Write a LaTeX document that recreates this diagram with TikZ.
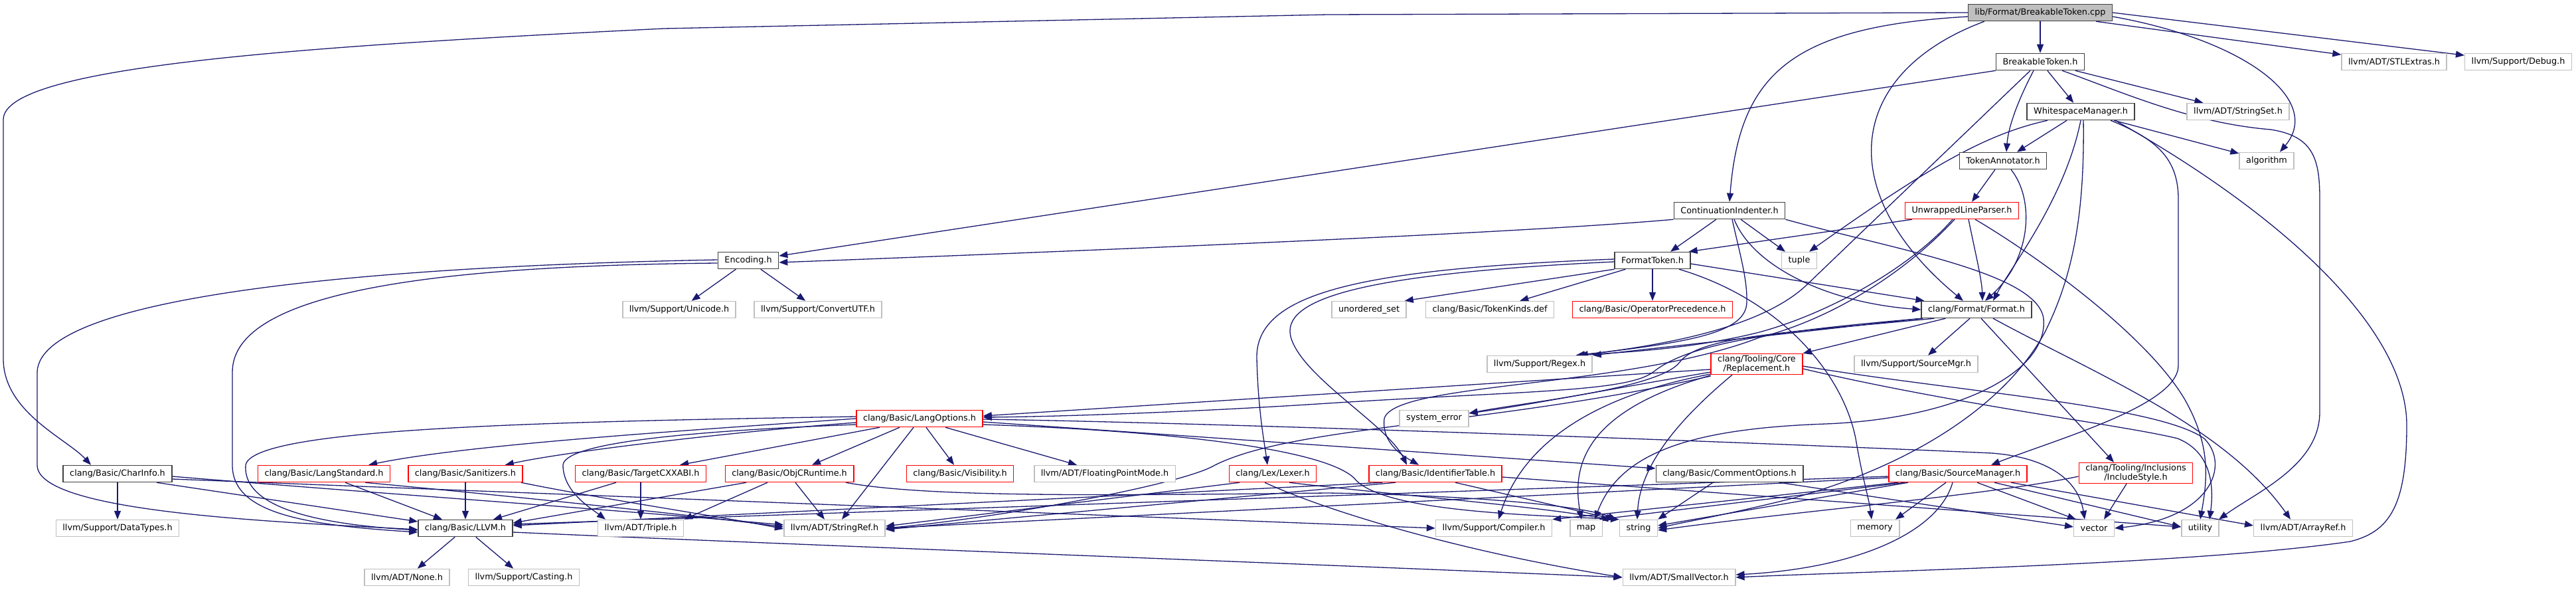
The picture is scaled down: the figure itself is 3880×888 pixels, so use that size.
\documentclass[tikz,border=0pt]{standalone}
\usepackage{fontspec}
\setmainfont{DejaVu Sans}
\usetikzlibrary{arrows.meta}
\pgfdeclarelayer{bg}
\pgfsetlayers{bg,main}
\definecolor{midblue}{HTML}{191970}
\definecolor{gborder}{HTML}{BFBFBF}
\definecolor{rborder}{HTML}{FF0000}
\definecolor{kborder}{HTML}{404040}
\begin{document}
\begin{tikzpicture}[x=1pt,y=-1pt,
  nd/.style={draw, line width=1.5pt, fill=white, minimum height=25pt, inner xsep=10pt, inner ysep=2pt,
    font=\fontsize{12.8pt}{14.5pt}\selectfont, align=center},
  blk/.style={nd, draw=kborder},
  gry/.style={nd, draw=gborder},
  rd/.style={nd, draw=rborder},
  edg/.style={draw=midblue, line width=1.3pt, -{Triangle[length=13pt,width=10pt]}}]
\useasboundingbox (0,0) rectangle (3880,888);
% nodes
\node[blk, fill=gborder] (cpp) at (3073,19) {lib/Format/BreakableToken.cpp};
\node[blk] (bth) at (3073,93) {BreakableToken.h};
\node[gry] (stl) at (3606,93) {llvm/ADT/STLExtras.h};
\node[gry] (dbg) at (3793,93) {llvm/Support/Debug.h};
\node[blk] (wsm) at (3134,168) {WhitespaceManager.h};
\node[gry] (sset) at (3371,168) {llvm/ADT/StringSet.h};
\node[blk] (ta) at (3017,242) {TokenAnnotator.h};
\node[gry] (alg) at (3414,242) {algorithm};
\node[rd] (ulp) at (2955,317) {UnwrappedLineParser.h};
\node[blk] (ci) at (2605,317) {ContinuationIndenter.h};
\node[blk] (ft) at (2489,392) {FormatToken.h};
\node[gry] (tuple) at (2710,392) {tuple};
\node[blk] (enc) at (1127,392) {Encoding.h};
\node[gry] (uni) at (1023,466) {llvm/Support/Unicode.h};
\node[gry] (cutf) at (1232,466) {llvm/Support/ConvertUTF.h};
\node[gry] (uset) at (2062,466) {unordered\_set};
\node[gry] (tkd) at (2244,466) {clang/Basic/TokenKinds.def};
\node[rd] (opp) at (2489,466) {clang/Basic/OperatorPrecedence.h};
\node[blk] (fmt) at (2977,466) {clang/Format/Format.h};
\node[gry] (regex) at (2319,548) {llvm/Support/Regex.h};
\node[rd] (repl) at (2646,548) {clang/Tooling/Core\\/Replacement.h};
\node[gry] (smgr) at (2886,548) {llvm/Support/SourceMgr.h};
\node[gry] (sysErr) at (2160,630) {system\_error};
\node[rd] (lo) at (1385,630) {clang/Basic/LangOptions.h};
\node[blk] (charinfo) at (177,713) {clang/Basic/CharInfo.h};
\node[rd] (lstd) at (488,713) {clang/Basic/LangStandard.h};
\node[rd] (san) at (701,713) {clang/Basic/Sanitizers.h};
\node[rd] (cxxabi) at (965,713) {clang/Basic/TargetCXXABI.h};
\node[rd] (objc) at (1189,713) {clang/Basic/ObjCRuntime.h};
\node[rd] (vis) at (1446,713) {clang/Basic/Visibility.h};
\node[gry] (fpm) at (1664,713) {llvm/ADT/FloatingPointMode.h};
\node[rd] (lexer) at (1917,713) {clang/Lex/Lexer.h};
\node[rd] (idt) at (2162,713) {clang/Basic/IdentifierTable.h};
\node[blk] (copt) at (2605,713) {clang/Basic/CommentOptions.h};
\node[rd] (srcm) at (2949,713) {clang/Basic/SourceManager.h};
\node[rd] (incs) at (3217,712) {clang/Tooling/Inclusions\\/IncludeStyle.h};
\node[gry] (dtypes) at (177,795) {llvm/Support/DataTypes.h};
\node[blk] (llvmh) at (701,795) {clang/Basic/LLVM.h};
\node[gry] (triple) at (965,795) {llvm/ADT/Triple.h};
\node[gry] (sref) at (1257,795) {llvm/ADT/StringRef.h};
\node[gry] (comp) at (2250,795) {llvm/Support/Compiler.h};
\node[gry] (map) at (2389,795) {map};
\node[gry] (string) at (2468,795) {string};
\node[gry] (memory) at (2824,795) {memory};
\node[gry] (vector) at (3154,795) {vector};
\node[gry] (utility) at (3314,795) {utility};
\node[gry] (aref) at (3469,795) {llvm/ADT/ArrayRef.h};
\node[gry] (none) at (613,869) {llvm/ADT/None.h};
\node[gry] (cast) at (789,869) {llvm/Support/Casting.h};
\node[gry] (svec) at (2529,869) {llvm/ADT/SmallVector.h};
% edges
\begin{pgfonlayer}{bg}
% BreakableToken.cpp
\draw[edg] (cpp) -- (bth);
\draw[edg] ([xshift=-25pt]cpp.south east) -- (stl);
\draw[edg] (cpp.east) -- (dbg);
\draw[edg] ([yshift=-6pt]cpp.east) .. controls (3380,60) and (3500,150) .. ([xshift=20pt]alg.north);
\draw[edg] ([yshift=-6pt]cpp.west) .. controls (2700,40) and (2620,110) .. (ci.north);
\draw[edg] ([xshift=25pt]cpp.south west) .. controls (2780,110) and (2760,290) .. ([xshift=-20pt]fmt.north);
\draw[edg] (cpp.west) -- (2000,22) -- (1000,43) .. controls (450,70) and (5,100) .. (5,180) -- (5,540) .. controls (5,620) and (100,660) .. ([xshift=-40pt]charinfo.north);
% BreakableToken.h
\draw[edg] (bth) -- (wsm);
\draw[edg] ([xshift=-10pt]bth.south) .. controls (3040,150) and (3025,190) .. ([xshift=5pt]ta.north);
\draw[edg] (bth) -- (sset);
\draw[edg] (bth.south west) -- (enc);
\draw[edg] ([xshift=-15pt]bth.south) -- (2720,430) .. controls (2650,495) and (2500,520) .. ([xshift=-20pt]regex.north east);
\draw[edg] ([xshift=33pt]bth.south) .. controls (3200,140) and (3300,185) .. (3420,195) .. controls (3485,205) and (3494,240) .. (3494,300) -- (3494,620) .. controls (3494,700) and (3400,740) .. ([xshift=28pt]utility.north);
% WhitespaceManager.h
\draw[edg] (wsm) -- (ta);
\draw[edg] (wsm) -- (alg);
\draw[edg] ([xshift=-50pt]wsm.south) .. controls (3000,200) and (2920,240) .. ([xshift=15pt]tuple.north);
\draw[edg] (wsm.south) .. controls (3110,300) and (3030,400) .. ([xshift=25pt]fmt.north);
\draw[edg] ([xshift=4pt]wsm.south) .. controls (3140,330) and (3120,420) .. (3080,500) .. controls (3020,610) and (2880,700) .. (2700,750) .. controls (2600,775) and (2540,785) .. (string.east);
\draw[edg] ([xshift=45pt]wsm.south) .. controls (3250,210) and (3281,240) .. (3281,300) -- (3281,550) .. controls (3281,610) and (3100,660) .. ([xshift=50pt]srcm.north);
\draw[edg] ([xshift=52pt]wsm.south) .. controls (3450,330) and (3625,500) .. (3625,640) .. controls (3625,760) and (3600,800) .. (3540,815) .. controls (3300,850) and (2800,860) .. (svec.east);
% TokenAnnotator.h
\draw[edg] ([xshift=-12pt]ta.south) -- ([xshift=15pt]ulp.north);
\draw[edg] ([xshift=12pt]ta.south) .. controls (3065,300) and (3060,390) .. ([xshift=13pt]fmt.north);
% UnwrappedLineParser.h
\draw[edg] ([xshift=-75pt]ulp.south) -- ([xshift=-3pt]ft.north east);
\draw[edg] ([xshift=10pt]ulp.south) .. controls (2975,380) and (2985,420) .. ([xshift=9pt]fmt.north);
\draw[edg] ([xshift=-14pt]ulp.south) .. controls (2880,400) and (2760,470) .. (2650,500) .. controls (2550,525) and (2450,530) .. ([xshift=-25pt]regex.north east);
\draw[edg] ([xshift=-11pt]ulp.south) .. controls (2870,410) and (2760,480) .. (2650,508) .. controls (2450,585) and (2100,575) .. (2085,630) .. controls (2080,670) and (2120,690) .. ([xshift=-25pt]idt.north);
\draw[edg] ([xshift=20pt]ulp.south) .. controls (3060,380) and (3230,500) .. (3290,600) .. controls (3330,670) and (3325,720) .. (utility.north);
% ContinuationIndenter.h
\draw[edg] (ci.south west) .. controls (2300,350) and (1700,375) .. ([yshift=-3pt]enc.east);
\draw[edg] ([xshift=-20pt]ci.south) -- ([xshift=27pt]ft.north);
\draw[edg] ([xshift=17pt]ci.south) -- ([xshift=-21pt]tuple.north);
\draw[edg] ([xshift=4pt]ci.south) .. controls (2620,380) and (2632,420) .. (2631,455) .. controls (2630,500) and (2550,515) .. ([xshift=-25pt]regex.north east);
\draw[edg] ([xshift=7pt]ci.south) .. controls (2640,400) and (2750,455) .. (fmt.west);
\draw[edg] (ci.south east) .. controls (2850,375) and (3070,410) .. (3078,480) .. controls (3085,560) and (2950,630) .. (2750,638) .. controls (2550,645) and (2440,680) .. ([xshift=13pt]map.north);
% FormatToken.h
\draw[edg] (ft.south west) -- ([xshift=-3pt]uset.north east);
\draw[edg] ([xshift=17pt]ft.south west) -- ([xshift=-52pt]tkd.north east);
\draw[edg] (ft) -- (opp);
\draw[edg] ([yshift=-5pt]ft.east) -- ([xshift=5pt]fmt.north west);
\draw[edg] ([yshift=2pt]ft.west) .. controls (2050,405) and (1890,440) .. (1893,540) .. controls (1895,620) and (1905,670) .. ([xshift=-8pt]lexer.north);
\draw[edg] ([yshift=-2pt]ft.west) .. controls (2050,412) and (1925,450) .. (1945,510) .. controls (1965,570) and (2090,640) .. ([xshift=-43pt]idt.north);
\draw[edg] ([xshift=40pt]ft.south) .. controls (2680,450) and (2775,560) .. (2795,660) .. controls (2805,720) and (2815,750) .. ([xshift=-5pt]memory.north);
% Format.h
\draw[edg] (fmt.south west) -- (regex.north east);
\draw[edg] ([xshift=3pt]fmt.south west) .. controls (2650,500) and (2540,520) .. (2490,560) .. controls (2450,590) and (2300,588) .. (2000,607) .. controls (1800,620) and (1600,627) .. ([yshift=2pt]lo.east);
\draw[edg] ([xshift=37pt]fmt.south west) -- (repl.north east);
\draw[edg] ([xshift=-10pt]fmt.south) -- ([xshift=18pt]smgr.north);
\draw[edg] ([xshift=20pt]fmt.south west) .. controls (2700,500) and (2560,505) .. (2530,545) .. controls (2500,585) and (2300,605) .. ([yshift=8pt]sysErr.east);
\draw[edg] ([xshift=7pt]fmt.south) -- ([xshift=-33pt]incs.north);
\draw[edg] ([xshift=25pt]fmt.south) .. controls (3150,560) and (3350,640) .. ([xshift=-19pt]aref.north);
% Replacement.h
\draw[edg] ([yshift=-8pt]repl.west) -- ([yshift=4pt]lo.east);
\draw[edg] ([yshift=-12pt]repl.west) .. controls (2400,590) and (2300,610) .. ([yshift=8pt]sysErr.east);
\draw[edg] ([yshift=-15pt]repl.west) .. controls (2380,600) and (2290,680) .. ([xshift=7pt]comp.north);
\draw[edg] ([yshift=-17pt]repl.west) .. controls (2400,615) and (2365,690) .. ([xshift=-7pt]map.north);
\draw[edg] ([xshift=-37pt]repl.south) .. controls (2530,630) and (2470,700) .. ([xshift=-2pt]string.north);
\draw[edg] ([yshift=-18pt]repl.west) .. controls (2250,640) and (1950,640) .. (1830,700) .. controls (1780,730) and (1500,780) .. (sref.east);
\draw[edg] ([yshift=-3pt]repl.east) .. controls (2950,590) and (3250,610) .. (3320,660) .. controls (3360,700) and (3330,780) .. (vector.east);
\draw[edg] ([yshift=-7pt]repl.east) .. controls (2950,610) and (3200,640) .. (3280,660) .. controls (3330,680) and (3335,730) .. ([xshift=14pt]utility.north);
% LangOptions.h
\draw[edg] (lo.west) .. controls (1000,650) and (700,670) .. ([xshift=-33pt]lstd.north east);
\draw[edg] ([yshift=-6pt]lo.west) .. controls (1100,650) and (850,680) .. ([xshift=-27pt]san.north east);
\draw[edg] ([xshift=-60pt]lo.south) -- ([xshift=-40pt]cxxabi.north east);
\draw[edg] ([xshift=-30pt]lo.south) -- ([xshift=34pt]objc.north);
\draw[edg] ([xshift=-9pt]lo.south) -- ([xshift=11pt]sref.north);
\draw[edg] ([xshift=10pt]lo.south) -- ([xshift=-9pt]vis.north);
\draw[edg] ([xshift=39pt]lo.south) -- ([xshift=-42pt]fpm.north);
\draw[edg] ([yshift=3pt]lo.west) .. controls (800,635) and (380,645) .. (370,700) .. controls (365,770) and (500,790) .. ([yshift=-3pt]llvmh.west);
\draw[edg] ([yshift=-9pt]lo.west) .. controls (1000,650) and (850,670) .. (848,700) .. controls (848,740) and (890,765) .. ([xshift=-53pt]triple.north);
\draw[edg] ([yshift=-5pt]lo.east) -- ([yshift=8pt]copt.west);
\draw[edg] ([yshift=-1pt]lo.east) .. controls (1800,636) and (2500,660) .. (3000,682) .. controls (3080,688) and (3130,720) .. ([xshift=-14pt]vector.north);
\draw[edg] ([yshift=-9pt]lo.east) .. controls (1800,650) and (2000,680) .. (2040,720) .. controls (2080,770) and (2300,775) .. (string.north west);
% CharInfo.h
\draw[edg] (charinfo) -- (dtypes);
\draw[edg] ([xshift=59pt]charinfo.south) -- ([yshift=10pt]llvmh.west);
\draw[edg] ([yshift=-4pt]charinfo.east) .. controls (600,745) and (900,765) .. ([yshift=5pt]sref.west);
\draw[edg] ([yshift=-8pt]charinfo.east) -- (comp.west);
% LangStandard, Sanitizers, TargetCXXABI, ObjCRuntime
\draw[edg] ([xshift=32pt]lstd.south) -- ([xshift=-35pt]llvmh.north);
\draw[edg] ([xshift=62pt]lstd.south) .. controls (700,740) and (1000,770) .. ([yshift=2pt]sref.west);
\draw[edg] (san) -- (llvmh);
\draw[edg] ([xshift=84pt]san.south) .. controls (900,750) and (1100,780) .. ([yshift=-1pt]sref.west);
\draw[edg] ([xshift=-37pt]cxxabi.south) -- ([xshift=42pt]llvmh.north);
\draw[edg] (cxxabi) -- (triple);
\draw[edg] ([xshift=-65pt]objc.south) -- ([yshift=8pt]llvmh.east);
\draw[edg] ([xshift=-33pt]objc.south) -- (triple.north east);
\draw[edg] ([xshift=9pt]objc.south) -- ([xshift=-15pt]sref.north);
\draw[edg] ([xshift=85pt]objc.south) .. controls (1400,750) and (1700,745) .. (2000,742) .. controls (2200,745) and (2380,760) .. ([xshift=-4pt]string.north west);
% LLVM.h
\draw[edg] (llvmh) -- (none);
\draw[edg] (llvmh) -- (cast);
\draw[edg] ([yshift=-6pt]llvmh.east) .. controls (1200,820) and (2000,850) .. (svec.west);
% Encoding.h
\draw[edg] (enc) -- (uni);
\draw[edg] (enc) -- (cutf);
\draw[edg] ([yshift=1pt]enc.west) .. controls (600,400) and (60,440) .. (56,560) -- (56,700) .. controls (56,770) and (400,785) .. ([yshift=-2pt]llvmh.west);
\draw[edg] ([yshift=-4pt]enc.west) .. controls (650,400) and (350,440) .. (350,560) -- (350,700) .. controls (350,770) and (450,790) .. ([yshift=-6pt]llvmh.west);
% Lexer.h
\draw[edg] ([xshift=-50pt]lexer.south) -- ([yshift=3pt]sref.east);
\draw[edg] ([xshift=-12pt]lexer.south) .. controls (2000,770) and (2200,830) .. (svec.west);
\draw[edg] ([xshift=25pt]lexer.south) .. controls (2100,745) and (2300,760) .. ([xshift=-14pt]string.north west);
% IdentifierTable.h
\draw[edg] ([xshift=-80pt]idt.south) -- ([yshift=4pt]llvmh.east);
\draw[edg] ([xshift=-60pt]idt.south) -- ([yshift=-2pt]sref.east);
\draw[edg] ([xshift=30pt]idt.south) -- ([xshift=-6pt]string.north west);
\draw[edg] ([yshift=-5pt]idt.east) -- ([yshift=2pt]utility.west);
% CommentOptions.h
\draw[edg] ([xshift=-25pt]copt.south) -- (string.north east);
\draw[edg] ([xshift=75pt]copt.south) -- ([yshift=2pt]vector.west);
% SourceManager.h
\draw[edg] ([yshift=-4pt]srcm.west) -- ([yshift=6pt]llvmh.east);
\draw[edg] ([yshift=-6pt]srcm.west) -- (sref.east);
\draw[edg] ([xshift=-90pt]srcm.south) -- (comp.north east);
\draw[edg] ([xshift=-80pt]srcm.south) -- ([xshift=20pt]map.north);
\draw[edg] ([xshift=-75pt]srcm.south) -- ([yshift=4pt]string.east);
\draw[edg] ([xshift=-18pt]srcm.south) -- ([xshift=31pt]memory.north);
\draw[edg] ([xshift=-8pt]srcm.south) .. controls (2920,800) and (2800,855) .. ([yshift=4pt]svec.east);
\draw[edg] ([xshift=29pt]srcm.south) -- ([xshift=4pt]vector.north west);
\draw[edg] ([xshift=55pt]srcm.south) -- ([yshift=2pt]utility.west);
\draw[edg] ([xshift=80pt]srcm.south) -- ([yshift=4pt]aref.west);
% IncludeStyle.h
\draw[edg] ([xshift=-14pt]incs.south) -- ([xshift=15pt]vector.north);
\draw[edg] ([yshift=-5pt]incs.west) .. controls (3000,745) and (2700,770) .. ([yshift=-3pt]string.east);
\end{pgfonlayer}
\end{tikzpicture}
\end{document}
